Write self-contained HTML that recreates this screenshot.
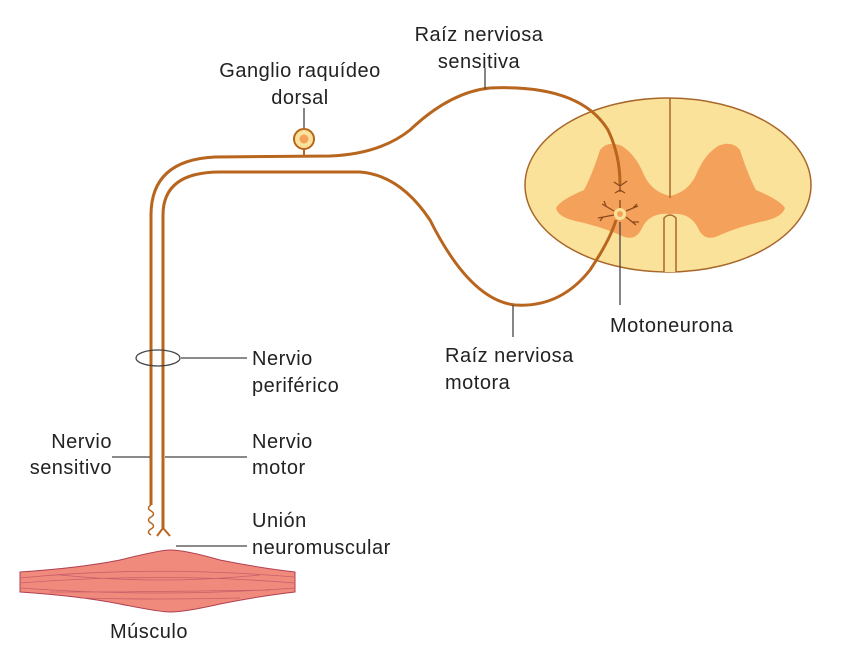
<!DOCTYPE html>
<html><head><meta charset="utf-8"><style>
html,body{margin:0;padding:0;background:#fff;}
svg{display:block;}
text{font-family:"Liberation Sans",sans-serif;font-size:20px;letter-spacing:0.5px;fill:#222;}
</style></head><body>
<svg width="851" height="646" viewBox="0 0 851 646" xmlns="http://www.w3.org/2000/svg">
<!-- spinal cord -->
<ellipse cx="668" cy="185" rx="143" ry="87" fill="#fbe29a" stroke="#a8672a" stroke-width="1.5"/>
<path d="M600 150 Q608 140 622 146 Q636 155 644 175 Q652 192 670 196 Q688 192 696 175 Q704 155 718 146 Q732 140 740 150 Q748 175 756 190 Q780 200 785 208 Q782 218 760 222 Q735 228 718 236 Q704 242 698 228 Q690 212 670 214 Q650 212 642 228 Q636 242 622 236 Q605 228 580 222 Q558 218 556 208 Q560 200 584 190 Q592 175 600 150 Z" fill="#f4a25b"/>
<line x1="670" y1="98" x2="670" y2="198" stroke="#a8672a" stroke-width="1.5"/>
<path d="M664 272 L664 218 Q670 212 676 218 L676 272" fill="#fbe29a" stroke="#a8672a" stroke-width="1.5"/>
<!-- motoneuron -->
<circle cx="620" cy="214" r="6" fill="#fbe29a"/>
<circle cx="620" cy="214" r="3" fill="#f4a25b"/>
<g stroke="#8a4a1a" stroke-width="1.3" fill="none">
<path d="M614 211 L602 204 M606 206 L604 201 M614 215 L598 218 M603 217 L600 221 M626 211 L638 206 M633 208 L637 204 M626 217 L636 225 M632 222 L639 222 M620 208 L620 200"/>
<path d="M620 192 L620 182 M620 186 L614 182 M620 186 L627 181 M615 193 L620 190 L625 193"/>
</g>
<!-- nerves -->
<g stroke="#b8651e" stroke-width="3" fill="none">
<path d="M151 505 L151 215 Q151 160 215 157 L330 156 Q380 154 410 130 Q450 92 490 88 Q580 84 608 130 Q620 155 620 184"/>
<path d="M163 528 L163 215 Q163 172 220 172 L360 172 Q400 175 430 220 Q470 300 515 305 Q560 308 590 270 Q610 240 616 220"/>
<path d="M151 505 q-5 3 0 6 q5 3 0 6 q-5 3 0 6 q5 3 0 6 q-5 3 0 6" stroke-width="1.5"/>
<path d="M163 528 L157 536 M163 528 L170 536" stroke-width="2"/>
</g>
<!-- ganglion -->
<line x1="304" y1="148" x2="304" y2="157" stroke="#b8651e" stroke-width="2"/>
<circle cx="304" cy="139" r="10" fill="#fbe29a" stroke="#b8651e" stroke-width="2"/>
<circle cx="304" cy="139" r="4.5" fill="#f4a25b"/>
<!-- pointer lines -->
<g stroke="#444" stroke-width="1.3" fill="none">
<line x1="304" y1="108" x2="304" y2="128"/>
<line x1="485" y1="68" x2="485" y2="89"/>
<line x1="620" y1="222" x2="620" y2="305"/>
<line x1="513" y1="305" x2="513" y2="337"/>
<ellipse cx="158" cy="358" rx="22" ry="8"/>
<line x1="181" y1="358" x2="247" y2="358"/>
<line x1="112" y1="457" x2="150" y2="457"/>
<line x1="165" y1="457" x2="247" y2="457"/>
<line x1="176" y1="546" x2="247" y2="546"/>
</g>
<!-- muscle -->
<path d="M20 572 Q80 568 120 560 Q160 550 170 550 Q185 550 220 560 Q260 568 295 572 L295 592 Q260 596 220 604 Q185 612 170 612 Q160 612 120 604 Q80 596 20 592 Z" fill="#f08a7c" stroke="#b04050" stroke-width="1"/>
<g stroke="#c8606a" stroke-width="0.8" fill="none">
<path d="M20 578 Q150 565 295 577 M20 583 Q160 572 295 583 M20 588 Q160 598 295 588 M60 575 Q160 585 260 575 M50 592 Q160 592 270 590 M80 598 Q160 600 240 598"/>
</g>
<!-- labels -->
<text x="300" y="77" text-anchor="middle">Ganglio raquídeo</text>
<text x="300" y="104" text-anchor="middle">dorsal</text>
<text x="479" y="41" text-anchor="middle">Raíz nerviosa</text>
<text x="479" y="68" text-anchor="middle">sensitiva</text>
<text x="610" y="332">Motoneurona</text>
<text x="445" y="362">Raíz nerviosa</text>
<text x="445" y="389">motora</text>
<text x="252" y="365">Nervio</text>
<text x="252" y="392">periférico</text>
<text x="112" y="448" text-anchor="end">Nervio</text>
<text x="112" y="474" text-anchor="end">sensitivo</text>
<text x="252" y="448">Nervio</text>
<text x="252" y="474">motor</text>
<text x="252" y="527">Unión</text>
<text x="252" y="554">neuromuscular</text>
<text x="149" y="638" text-anchor="middle">Músculo</text>
</svg>
</body></html>
